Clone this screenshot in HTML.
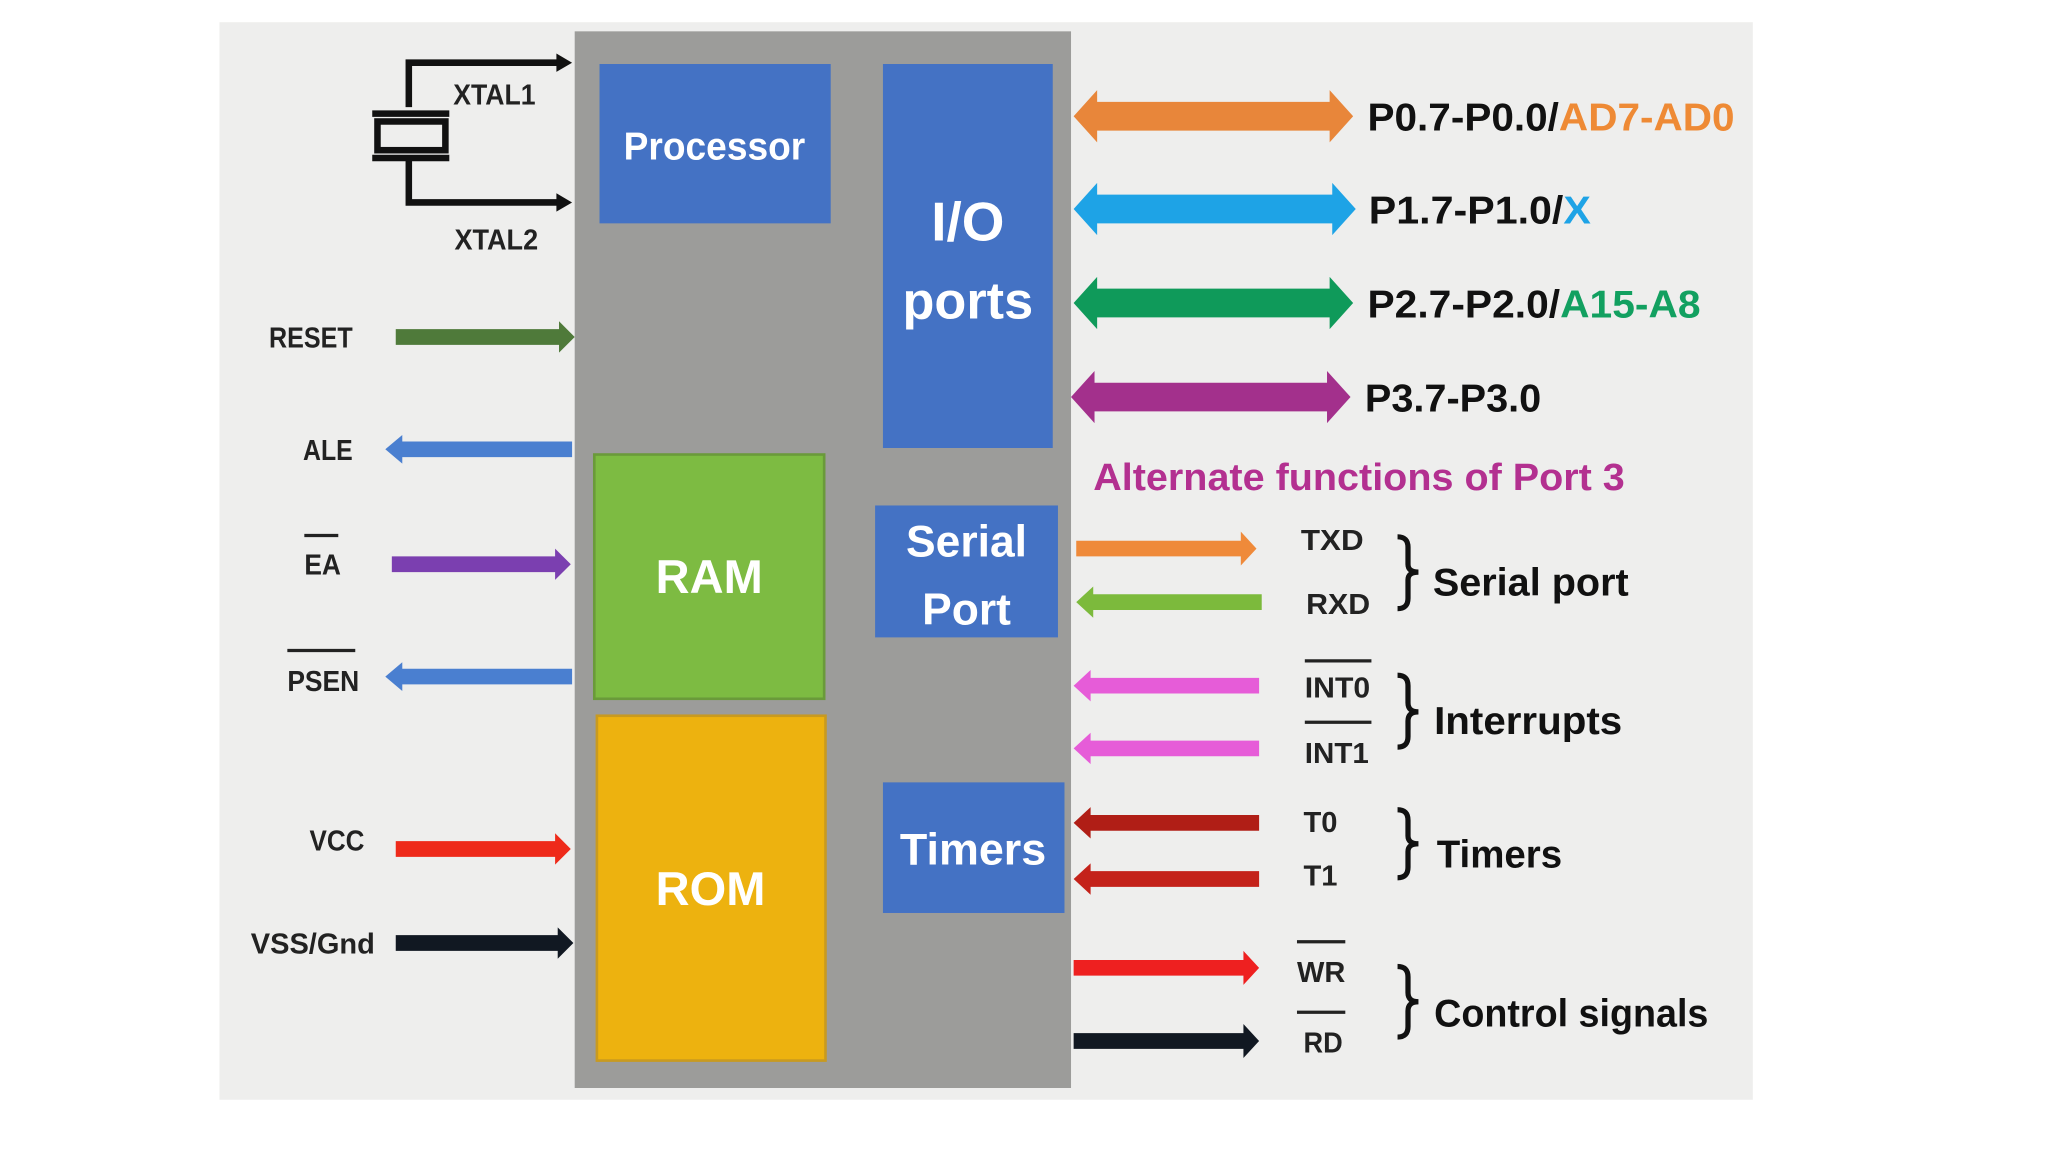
<!DOCTYPE html>
<html><head><meta charset="utf-8"><style>html,body{margin:0;padding:0;background:#fff}svg{display:block}</style></head>
<body>
<svg width="2048" height="1152" viewBox="0 0 1568 882" preserveAspectRatio="none" xmlns="http://www.w3.org/2000/svg" font-family="'Liberation Sans Narrow','Liberation Sans',sans-serif" font-weight="bold">
<rect width="1568" height="882" fill="#ffffff"/>
<rect x="168" y="17" width="1174" height="825" fill="#eeeeed"/>
<rect x="440" y="24" width="380" height="809" fill="#9c9c9a"/>
<rect x="459" y="49" width="177" height="122" fill="#4472c4"/>
<rect x="676" y="49" width="130" height="294" fill="#4472c4"/>
<rect x="455" y="348" width="176" height="187" fill="#7dbb42" stroke="#6a9a3a" stroke-width="2"/>
<rect x="457" y="548" width="175" height="264" fill="#edb20f" stroke="#c89a20" stroke-width="2"/>
<rect x="670" y="387" width="140" height="101" fill="#4472c4"/>
<rect x="676" y="599" width="139" height="100" fill="#4472c4"/>
<g fill="#ffffff" text-anchor="middle">
<text x="547" y="122" font-size="30" textLength="139" lengthAdjust="spacingAndGlyphs">Processor</text>
<text x="741" y="184" font-size="42">I/O</text>
<text x="741" y="244" font-size="40" textLength="100" lengthAdjust="spacingAndGlyphs">ports</text>
<text x="543" y="454" font-size="36">RAM</text>
<text x="544" y="693" font-size="36">ROM</text>
<text x="740" y="426" font-size="34">Serial</text>
<text x="740" y="478" font-size="34">Port</text>
<text x="745" y="662" font-size="34" textLength="112" lengthAdjust="spacingAndGlyphs">Timers</text>
</g>
<!-- crystal -->
<g stroke="#111" stroke-width="5" fill="none">
<path d="M313,82 V48 H428"/><path d="M313,122 V155 H428"/>
<line x1="285" y1="87" x2="344" y2="87"/><line x1="285" y1="121" x2="344" y2="121"/>
<rect x="289" y="93" width="52" height="22"/>
</g>
<polygon points="426,41 438,48 426,55" fill="#111"/>
<polygon points="426,148 438,155 426,162" fill="#111"/>
<!-- left arrows -->
<polygon points="303,252 428,252 428,246 440,258 428,270 428,264 303,264" fill="#4f7a3a"/>
<polygon points="295,344 308,333 308,338 438,338 438,350 308,350 308,355" fill="#4a7fd0"/>
<polygon points="300,426 425,426 425,420 437,432 425,444 425,438 300,438" fill="#7b3fb0"/>
<polygon points="295,518 308,507 308,512 438,512 438,524 308,524 308,529" fill="#4a7fd0"/>
<polygon points="303,644 425,644 425,638 437,650 425,662 425,656 303,656" fill="#ee2a1a"/>
<polygon points="303,716 427,716 427,710 439,722 427,734 427,728 303,728" fill="#111822"/>
<g fill="#222" font-size="22">
<text x="347" y="80" textLength="63" lengthAdjust="spacingAndGlyphs">XTAL1</text>
<text x="348" y="191" textLength="64" lengthAdjust="spacingAndGlyphs">XTAL2</text>
<text x="206" y="266" textLength="64" lengthAdjust="spacingAndGlyphs">RESET</text>
<text x="232" y="352" textLength="38" lengthAdjust="spacingAndGlyphs">ALE</text>
<text x="233" y="440" textLength="28" lengthAdjust="spacingAndGlyphs">EA</text>
<text x="220" y="529" textLength="55" lengthAdjust="spacingAndGlyphs">PSEN</text>
<text x="237" y="651" textLength="42" lengthAdjust="spacingAndGlyphs">VCC</text>
<text x="192" y="730" textLength="95" lengthAdjust="spacingAndGlyphs">VSS/Gnd</text>
<text x="996" y="421" textLength="48" lengthAdjust="spacingAndGlyphs">TXD</text>
<text x="1000" y="470" textLength="49" lengthAdjust="spacingAndGlyphs">RXD</text>
<text x="999" y="534" textLength="50" lengthAdjust="spacingAndGlyphs">INT0</text>
<text x="999" y="584" textLength="49" lengthAdjust="spacingAndGlyphs">INT1</text>
<text x="998" y="637" textLength="26" lengthAdjust="spacingAndGlyphs">T0</text>
<text x="998" y="678" textLength="26" lengthAdjust="spacingAndGlyphs">T1</text>
<text x="993" y="752" textLength="37" lengthAdjust="spacingAndGlyphs">WR</text>
<text x="998" y="806" textLength="30" lengthAdjust="spacingAndGlyphs">RD</text>
</g>
<g stroke="#222" stroke-width="2.5">
<line x1="233" y1="410" x2="259" y2="410"/><line x1="220" y1="498" x2="272" y2="498"/>
<line x1="999" y1="506" x2="1050" y2="506"/><line x1="999" y1="553" x2="1050" y2="553"/>
<line x1="993" y1="721" x2="1030" y2="721"/><line x1="993" y1="775" x2="1030" y2="775"/>
</g>
<!-- double arrows -->
<polygon points="822,89 840,69 840,78 1018,78 1018,69 1036,89 1018,109 1018,100 840,100 840,109" fill="#e8863a"/>
<polygon points="822,160 840,140 840,149 1020,149 1020,140 1038,160 1020,180 1020,171 840,171 840,180" fill="#1ea3e6"/>
<polygon points="822,232 840,212 840,221 1018,221 1018,212 1036,232 1018,252 1018,243 840,243 840,252" fill="#0f9a5a"/>
<polygon points="820,304 838,284 838,293 1016,293 1016,284 1034,304 1016,324 1016,315 838,315 838,324" fill="#a3308c"/>
<g font-size="30" fill="#111">
<text x="1047" y="100" textLength="281" lengthAdjust="spacingAndGlyphs">P0.7-P0.0/<tspan fill="#ee8a35">AD7-AD0</tspan></text>
<text x="1048" y="171" textLength="170" lengthAdjust="spacingAndGlyphs">P1.7-P1.0/<tspan fill="#1ea3e6">X</tspan></text>
<text x="1047" y="243" textLength="255" lengthAdjust="spacingAndGlyphs">P2.7-P2.0/<tspan fill="#12a060">A15-A8</tspan></text>
<text x="1045" y="315" textLength="135" lengthAdjust="spacingAndGlyphs">P3.7-P3.0</text>
<text x="837" y="375" font-size="29" fill="#b33090" textLength="407" lengthAdjust="spacingAndGlyphs">Alternate functions of Port 3</text>
<text x="1097" y="456" textLength="150" lengthAdjust="spacingAndGlyphs">Serial port</text>
<text x="1098" y="562" textLength="144" lengthAdjust="spacingAndGlyphs">Interrupts</text>
<text x="1100" y="664" textLength="96" lengthAdjust="spacingAndGlyphs">Timers</text>
<text x="1098" y="786" textLength="210" lengthAdjust="spacingAndGlyphs">Control signals</text>
</g>
<!-- single right-side arrows -->
<polygon points="824,414 950,414 950,407 962,420 950,433 950,426 824,426" fill="#ef8a3a"/>
<polygon points="824,461 837,449 837,455 966,455 966,467 837,467 837,473" fill="#7cba3c"/>
<polygon points="822,525 835,513 835,519 964,519 964,531 835,531 835,537" fill="#e65cd8"/>
<polygon points="822,573 835,561 835,567 964,567 964,579 835,579 835,585" fill="#e65cd8"/>
<polygon points="822,630 835,618 835,624 964,624 964,636 835,636 835,642" fill="#b01e16"/>
<polygon points="822,673 835,661 835,667 964,667 964,679 835,679 835,685" fill="#c4221a"/>
<polygon points="822,735 952,735 952,728 964,741 952,754 952,747 822,747" fill="#ee2020"/>
<polygon points="822,791 952,791 952,784 964,797 952,810 952,803 822,803" fill="#111822"/>
<!-- braces -->
<g stroke="#111" stroke-width="4" fill="none">
<path d="M1070,411 Q1078,411 1078,419 L1078,432 Q1078,438 1086,438 Q1078,438 1078,444 L1078,458 Q1078,466 1070,466"/>
<path d="M1070,517 Q1078,517 1078,525 L1078,538 Q1078,545 1086,545 Q1078,545 1078,552 L1078,564 Q1078,572 1070,572"/>
<path d="M1070,620 Q1078,620 1078,628 L1078,640 Q1078,646 1086,646 Q1078,646 1078,652 L1078,664 Q1078,672 1070,672"/>
<path d="M1070,740 Q1078,740 1078,748 L1078,760 Q1078,767 1086,767 Q1078,767 1078,774 L1078,786 Q1078,794 1070,794"/>
</g>
</svg>
</body></html>
